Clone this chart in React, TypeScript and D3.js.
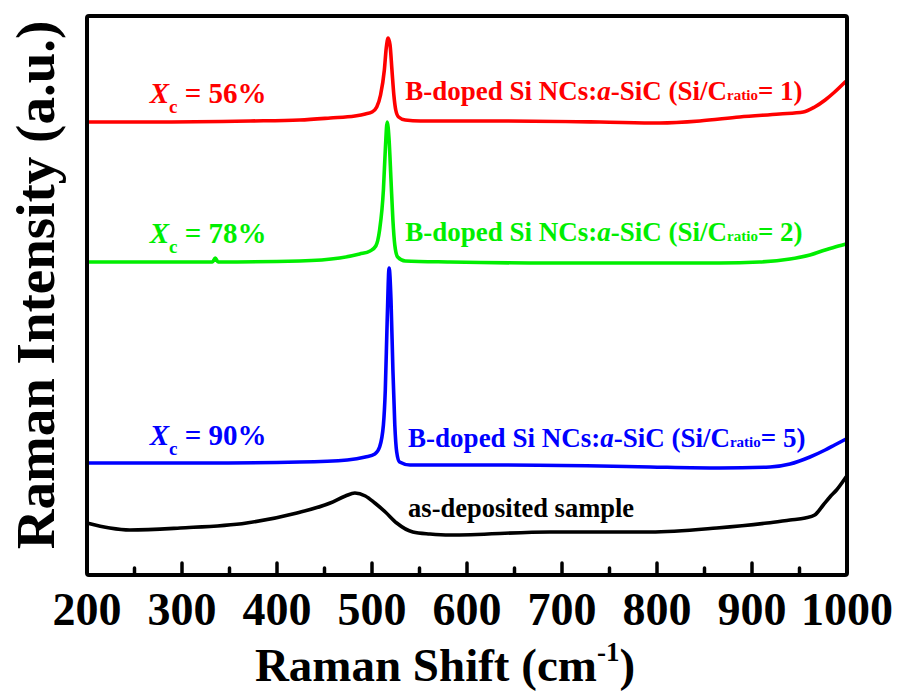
import React from "react";
import * as d3 from "d3";

// ---- data (Raman shift in cm^-1, intensity in arbitrary units incl. vertical offset) ----
const redShift = [200, 266, 372, 424, 456, 482, 493, 500, 505, 509, 513, 515, 517, 519, 521, 523, 525, 528, 535, 551, 635, 740, 803, 845, 887, 929, 954, 966, 977, 987, 998];
const redValue = [453, 453, 454, 455, 457, 459, 461, 463, 468, 480, 505, 527, 537, 530, 505, 480, 465, 458, 455, 454, 454, 453, 452, 454, 458, 461, 463, 468, 475, 483, 493];

const greenShift = [200, 266, 332, 335, 338, 424, 466, 487, 498, 504, 508, 512, 514, 516, 518, 520, 522, 524, 527, 535, 582, 687, 793, 866, 908, 940, 961, 977, 991, 999];
const greenValue = [313, 313, 313, 317, 313, 314, 317, 321, 324, 329, 345, 385, 425, 453, 435, 395, 355, 330, 318, 314, 313, 312, 312, 312, 313, 316, 320, 325, 329, 331];

const blueShift = [200, 319, 424, 474, 493, 503, 508, 512, 514, 516, 518, 520, 522, 524, 526, 529, 540, 635, 740, 793, 866, 919, 940, 961, 977, 987, 999];
const blueValue = [112, 112, 113, 115, 118, 121, 128, 150, 185, 255, 307, 275, 205, 150, 123, 113, 110, 110, 109, 108, 107, 108, 111, 118, 125, 130, 136];

const blackShift = [200, 224, 245, 298, 368, 421, 456, 472, 482, 493, 503, 514, 526, 543, 561, 582, 687, 793, 863, 916, 940, 956, 966, 975, 982, 989, 999];
const blackValue = [52, 47, 45, 47, 52, 62, 72, 79, 82, 79, 72, 63, 52, 43, 41, 40, 43, 43, 47, 52, 55, 57, 60, 70, 78, 85, 98];

const xTickLabels = [200, 300, 400, 500, 600, 700, 800, 900, 1000];
const minorTicks = [250, 350, 450, 550, 650, 750, 850, 950];

const seriesNames = ["red", "green", "blue", "black"];
const seriesColors = ["#ff0000", "#00ee00", "#0000ff", "#000000"];
const xcLabels = ["56%", "78%", "90%"];
const ratioLabels = ["1", "2", "5"];
// label anchors in data coordinates [shift, intensity]
const xcAnchorShift = [266, 266, 266];
const xcAnchorValue = [472, 332, 130];
const descAnchorShift = [535, 535, 538];
const descAnchorValue = [475, 334, 128];
const asDepAnchor = [538, 58];

const W = 897;
const H = 695;
const FONT = "'Liberation Serif', 'Times New Roman', Times, serif";

export default function App() {
  const x = d3.scaleLinear().domain([200, 1000]).range([87, 847]);
  const y = d3.scaleLinear().domain([0, 559]).range([575, 16]);

  const series = [
    { s: redShift, v: redValue },
    { s: greenShift, v: greenValue },
    { s: blueShift, v: blueValue },
    { s: blackShift, v: blackValue },
  ];

  const line = d3
    .line<[number, number]>()
    .x((d) => x(d[0]))
    .y((d) => y(d[1]))
    .curve(d3.curveMonotoneX);

  return (
    <svg
      width={W}
      height={H}
      style={{ position: "absolute", left: 0, top: 0, background: "#fff", fontFamily: FONT }}
    >
      <rect x={0} y={0} width={W} height={H} fill="#fff" />
      {/* curves */}
      {series.map((ser, i) => (
        <path
          key={seriesNames[i]}
          d={line(ser.s.map((s, j) => [s, ser.v[j]] as [number, number])) || ""}
          fill="none"
          stroke={seriesColors[i]}
          strokeWidth={3.6}
          strokeLinejoin="round"
          strokeLinecap="round"
        />
      ))}

      {/* frame */}
      <rect
        x={x(200)}
        y={y(559)}
        width={x(1000) - x(200)}
        height={y(0) - y(559)}
        fill="none"
        stroke="#000"
        strokeWidth={4}
        strokeLinejoin="round"
        rx={2}
      />

      {/* ticks */}
      {xTickLabels.slice(1, -1).map((t) => (
        <line key={"M" + t} x1={x(t)} x2={x(t)} y1={y(0)} y2={y(0) - 12} stroke="#000" strokeWidth={3.5} strokeLinecap="round" />
      ))}
      {minorTicks.map((t) => (
        <line key={"m" + t} x1={x(t)} x2={x(t)} y1={y(0)} y2={y(0) - 7} stroke="#000" strokeWidth={3.5} strokeLinecap="round" />
      ))}

      {/* tick labels */}
      {xTickLabels.map((t) => (
        <text key={"L" + t} x={x(t)} y={625} textAnchor="middle" fontSize={46} fontWeight="bold" fill="#000">
          {t}
        </text>
      ))}

      {/* axis titles */}
      <text x={445} y={681} textAnchor="middle" fontSize={47} fontWeight="bold" fill="#000">
        Raman Shift (cm
        <tspan fontSize={27} dy={-20}>-1</tspan>
        <tspan dy={20}>)</tspan>
      </text>
      <text
        transform={`translate(54, 285) rotate(-90)`}
        textAnchor="middle"
        fontSize={55}
        fontWeight="bold"
        fill="#000"
      >
        Raman Intensity (a.u.)
      </text>

      {/* Xc labels */}
      {xcLabels.map((lab, i) => (
        <text
          key={"xc" + i}
          x={x(xcAnchorShift[i])}
          y={y(xcAnchorValue[i])}
          fontSize={29}
          fontWeight="bold"
          fill={seriesColors[i]}
        >
          <tspan fontStyle="italic">X</tspan>
          <tspan fontSize={19} dy={10}>c</tspan>
          <tspan dy={-10}>{" = " + lab}</tspan>
        </text>
      ))}

      {/* description labels */}
      {ratioLabels.map((r, i) => (
        <text
          key={"d" + i}
          x={x(descAnchorShift[i])}
          y={y(descAnchorValue[i])}
          fontSize={27}
          fontWeight="bold"
          fill={seriesColors[i]}
        >
          B-doped Si NCs:
          <tspan fontStyle="italic">a</tspan>
          -SiC (Si/C
          <tspan fontSize={15}>ratio</tspan>
          {"= " + r + ")"}
        </text>
      ))}

      <text x={x(asDepAnchor[0])} y={y(asDepAnchor[1])} fontSize={26.5} fontWeight="bold" fill="#000">
        as-deposited sample
      </text>
    </svg>
  );
}
